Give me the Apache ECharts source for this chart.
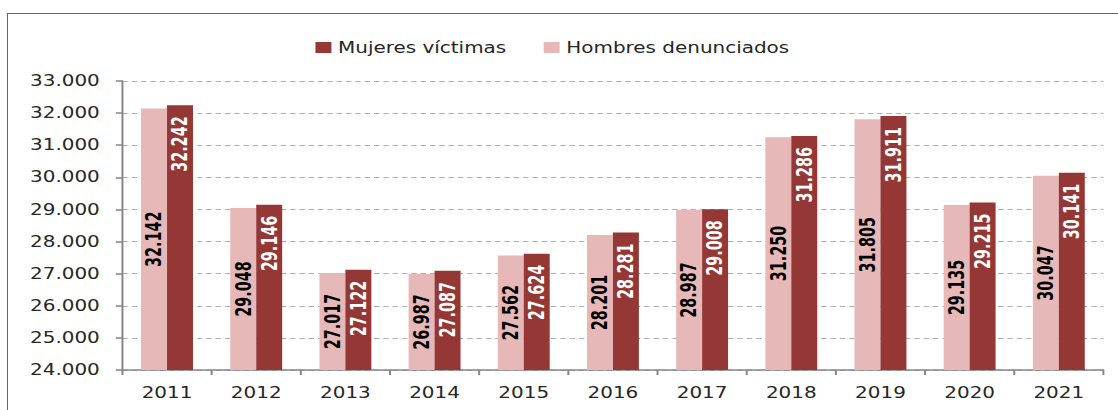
<!DOCTYPE html>
<html>
<head>
<meta charset="utf-8">
<script src="https://cdn.jsdelivr.net/npm/echarts@6/dist/echarts.min.js"></script>
<style>
  html, body { margin: 0; padding: 0; background: #fff; overflow: hidden; }
  #frame {
    position: absolute; left: 7px; top: 13px; width: 1200px; height: 500px;
    border-left: 1.5px solid #94582a; border-top: 1.5px solid #94582a;
  }
  /* the reference is stretched sideways, so draw narrower and widen it */
  #chart {
    position: absolute; left: 0; top: 0; width: 840px; height: 410px;
    transform: scaleX(1.331); transform-origin: 0 0;
  }
</style>
</head>
<body>
<div id="frame"></div>
<div id="chart"></div>
<script>
const years = ['2011', '2012', '2013', '2014', '2015', '2016', '2017', '2018', '2019', '2020', '2021'];
const hombres = [32142, 29048, 27017, 26987, 27562, 28201, 28987, 31250, 31805, 29135, 30047];
const mujeres = [32242, 29146, 27122, 27087, 27624, 28281, 29008, 31286, 31911, 29215, 30141];

const fmt = (v) => String(v).replace(/\B(?=(\d{3})+(?!\d))/g, '.');

const axisColor = '#868686';
const textColor = '#262626';
const labelFont = {
  fontFamily: '"DejaVu Sans Condensed", "Liberation Sans Narrow", sans-serif',
  fontWeight: 'bold',
  fontSize: 16,
};

const chart = echarts.init(document.getElementById('chart'), null, { renderer: 'svg' });

chart.setOption({
  animation: false,
  textStyle: { fontFamily: '"DejaVu Sans", sans-serif' },
  legend: {
    data: ['Mujeres víctimas', 'Hombres denunciados'],
    left: 232,
    top: 35,
    itemWidth: 12,
    itemHeight: 11,
    itemGap: 28,
    icon: 'rect',
    textStyle: { color: textColor, fontSize: 15 },
  },
  grid: {
    left: 92,
    right: 11,
    top: 81,
    bottom: 40,
    containLabel: false,
  },
  xAxis: {
    type: 'category',
    data: years,
    axisLine: { lineStyle: { color: axisColor, width: 1.5 } },
    axisTick: { show: true, length: 5, lineStyle: { color: axisColor, width: 1.5 } },
    axisLabel: { color: textColor, fontSize: 15, margin: 15 },
  },
  yAxis: {
    type: 'value',
    min: 24000,
    max: 33000,
    interval: 1000,
    axisLine: { show: true, lineStyle: { color: axisColor, width: 1.5 } },
    axisTick: { show: true, length: 5, lineStyle: { color: axisColor, width: 1.5 } },
    axisLabel: { color: textColor, fontSize: 15, margin: 17, formatter: fmt },
    splitLine: { lineStyle: { color: '#b0b0b0', type: [4, 3], width: 1 } },
  },
  series: [
    {
      name: 'Hombres denunciados',
      type: 'bar',
      data: hombres,
      barWidth: 19.5,
      barGap: '0%',
      itemStyle: { color: '#e6b8b7' },
      label: {
        show: true,
        position: 'inside',
        rotate: 90,
        color: '#000',
        formatter: (p) => fmt(p.value),
        ...labelFont,
      },
    },
    {
      name: 'Mujeres víctimas',
      type: 'bar',
      data: mujeres,
      barWidth: 19.5,
      barGap: '0%',
      itemStyle: { color: '#953735' },
      label: {
        show: true,
        position: 'insideTop',
        distance: 11,
        rotate: 90,
        align: 'right',
        verticalAlign: 'middle',
        color: '#fff',
        formatter: (p) => fmt(p.value),
        ...labelFont,
      },
    },
  ],
});
</script>
</body>
</html>
